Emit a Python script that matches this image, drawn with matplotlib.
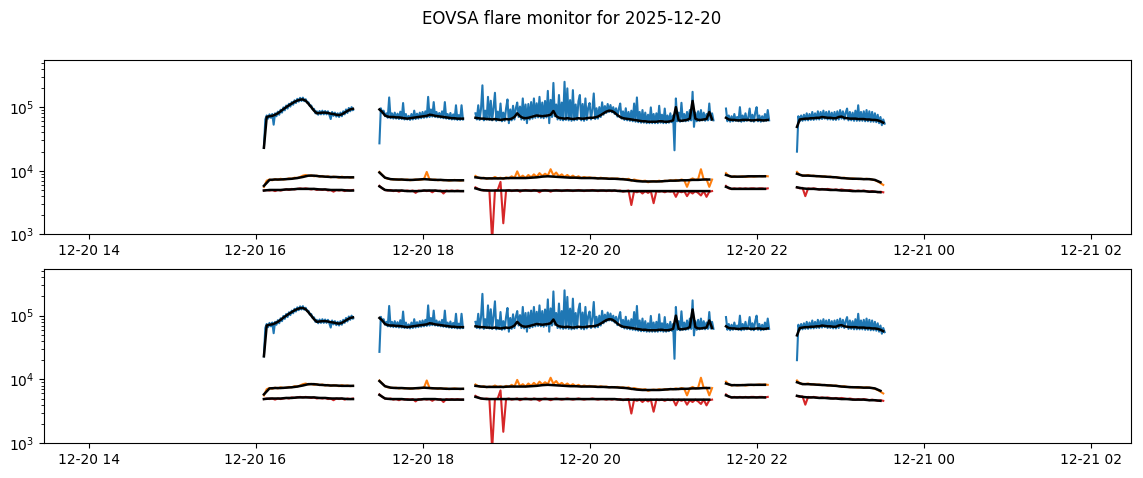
import numpy as np
import pandas as pd
import matplotlib
matplotlib.use('Agg')
import matplotlib.pyplot as plt

# EOVSA flare monitor, 2025-12-20, in units of 1e3
DAY = '2025-12-20'
seg_start = ['16:06', '17:29', '18:38', '21:38', '22:29']

# total power (blue), 1-minute samples
blue_1 = [23, 64, 74, 66, 77, 68, 78, 53, 80, 72, 85, 76, 91, 82, 99, 89, 106, 95, 113, 102,
          120, 109, 128, 116, 135, 122, 140, 125, 141, 124, 133, 118, 119, 104, 106, 92, 94, 80, 86, 76,
          87, 77, 88, 77, 87, 77, 86, 76, 65, 84, 73, 82, 71, 80, 70, 82, 72, 86, 77, 92,
          81, 97, 86, 100, 90]
blue_2 = [27, 96, 82, 88, 72, 80, 68, 142, 67, 80, 66, 82, 66, 79, 65, 85, 65, 116, 64, 78,
          64, 73, 63, 78, 64, 88, 65, 79, 66, 82, 67, 84, 68, 86, 69, 145, 70, 92, 71, 120,
          70, 84, 69, 81, 68, 86, 67, 120, 66, 78, 65, 81, 64, 77, 64, 107, 63, 75, 63, 107, 64]
blue_3 = [80, 64, 107, 63, 95, 220, 62, 88, 64, 145, 63, 126, 62, 98, 168, 61, 85, 62, 114, 60,
          82, 61, 96, 132, 56, 92, 62, 105, 64, 96, 118, 70, 102, 64, 137, 63, 110, 56, 112, 64,
          120, 66, 137, 68, 115, 69, 145, 68, 118, 67, 125, 69, 180, 56, 130, 70, 240, 72, 110, 64,
          155, 63, 118, 62, 250, 63, 197, 62, 129, 61, 185, 62, 110, 63, 124, 155, 62, 112, 61, 137,
          63, 98, 116, 64, 92, 164, 65, 96, 66, 100, 70, 119, 76, 104, 81, 112, 84, 108, 83, 100,
          78, 96, 71, 94, 114, 66, 86, 63, 96, 62, 84, 61, 88, 60, 114, 59, 142, 58, 84, 57,
          90, 57, 82, 56, 76, 56, 99, 56, 78, 56, 80, 56, 105, 57, 76, 56, 95, 56, 74, 57,
          80, 58, 74, 21, 137, 60, 82, 59, 117, 60, 78, 60, 84, 61, 90, 62, 174, 49, 82, 60,
          86, 61, 90, 62, 82, 61, 78, 62, 114, 63, 80, 62]
blue_4 = [95, 60, 74, 59, 72, 60, 78, 61, 70, 60, 100, 59, 74, 60, 80, 61, 68, 95, 60, 76,
          59, 82, 100, 60, 74, 59, 72, 60, 78, 61, 90, 62]
blue_5 = [20, 72, 60, 74, 61, 76, 62, 80, 62, 78, 63, 84, 63, 80, 64, 86, 64, 84, 65, 88,
          66, 84, 64, 86, 64, 82, 63, 84, 63, 86, 64, 90, 66, 86, 64, 82, 95, 62, 84, 62,
          82, 61, 88, 61, 107, 61, 84, 61, 86, 60, 90, 60, 86, 59, 84, 59, 80, 58, 76, 56,
          70, 52, 64, 55]

# smoothed total power (black), 2-minute samples
blue_sm_1 = [23, 70, 72, 73, 76, 80, 86, 93, 100, 107, 114, 121, 127, 131, 132, 126, 113, 100, 88, 80,
             81, 82, 82, 81, 79, 78, 76, 75, 77, 82, 87, 92, 94]
blue_sm_2 = [92, 84, 74, 71, 70, 70, 69, 69, 68, 67, 66, 67, 68, 69, 70, 71, 72, 73, 76, 75,
             73, 72, 71, 70, 69, 68, 67, 67, 66, 66, 66]
blue_sm_3 = [68, 67, 66, 66, 65, 65, 64, 65, 64, 63, 64, 65, 64, 66, 70, 80, 72, 68, 67, 68,
             70, 72, 74, 73, 72, 73, 74, 76, 87, 72, 68, 67, 66, 67, 66, 65, 66, 67, 66, 66,
             67, 68, 68, 69, 71, 75, 80, 85, 88, 87, 82, 75, 70, 67, 66, 65, 64, 63, 62, 61,
             60, 60, 59, 59, 59, 59, 60, 60, 59, 59, 60, 62, 100, 62, 61, 62, 63, 66, 125, 66,
             63, 63, 64, 65, 84, 64]
blue_sm_4 = [68, 64, 63, 63, 62, 62, 63, 63, 63, 62, 62, 63, 63, 62, 62, 63]
blue_sm_5 = [49, 64, 65, 66, 66, 67, 67, 68, 68, 70, 69, 68, 68, 67, 67, 70, 71, 68, 67, 66,
             66, 66, 65, 65, 65, 64, 64, 63, 63, 62, 60, 57]

# orange channel, 2-minute samples
orange_1 = [5.6, 7.0, 7.3, 7.1, 7.4, 7.2, 7.5, 7.3, 7.4, 7.6, 7.5, 7.8, 7.7, 8.0, 8.4, 8.6, 8.3, 8.5,
            8.2, 8.4, 8.1, 8.3, 8.0, 8.2, 7.9, 8.1, 8.0, 7.8, 8.1, 7.9, 8.0, 7.8, 7.9]
orange_2 = [9.6, 8.6, 7.8, 7.5, 7.4, 7.3, 7.4, 7.2, 7.3, 7.2, 7.3, 7.1, 7.2, 7.3, 7.2, 7.3, 7.4, 9.6,
            7.3, 7.2, 7.3, 7.1, 7.2, 7.1, 7.2, 7.0, 7.1, 7.2, 7.1, 7.0, 7.1]
orange_3 = [8.3, 7.8, 7.6, 7.8, 7.5, 7.7, 7.6, 8.0, 7.6, 7.8, 7.5, 7.9, 7.6, 8.2, 7.7, 9.8, 7.8, 8.4,
            7.7, 8.6, 7.9, 8.8, 8.0, 9.2, 8.3, 9.0, 8.4, 10.6, 8.5, 9.4, 8.2, 8.8, 8.0, 8.6, 7.9, 8.4,
            7.8, 8.2, 7.7, 8.0, 7.8, 7.9, 7.7, 7.8, 7.6, 7.8, 7.6, 7.7, 7.5, 7.6, 7.5, 7.6, 7.4, 7.5,
            7.3, 7.5, 7.0, 7.3, 7.1, 7.0, 6.9, 7.0, 6.6, 6.8, 6.9, 6.8, 7.0, 6.8, 7.0, 6.9, 7.1, 7.0,
            7.2, 7.0, 7.3, 7.1, 5.6, 7.2, 7.6, 7.2, 7.4, 10.6, 7.3, 7.4, 5.6, 7.3]
orange_4 = [9.2, 8.3, 8.0, 8.2, 8.0, 8.1, 8.2, 8.0, 8.1, 8.2, 8.1, 8.2, 8.3, 8.2, 8.3, 8.2]
orange_5 = [9.6, 8.6, 8.5, 8.4, 8.6, 8.3, 8.4, 8.2, 8.3, 8.1, 8.2, 8.0, 8.1, 7.9, 8.0, 7.8, 7.7, 7.8,
            7.6, 7.5, 7.6, 7.5, 7.4, 7.5, 7.4, 7.5, 7.4, 7.3, 7.1, 6.8, 6.4, 6.0]

# red channel, 2-minute samples
red_1 = [4.9, 5.0, 4.9, 5.0, 4.8, 5.0, 4.9, 5.0, 5.1, 5.0, 5.2, 5.1, 5.2, 5.3, 5.2, 5.3, 5.2, 5.1,
         5.2, 5.0, 5.1, 5.0, 5.1, 4.9, 5.0, 4.7, 5.0, 4.9, 5.0, 4.8, 5.0, 4.9, 5.0]
red_2 = [5.8, 5.3, 5.0, 4.9, 5.0, 4.8, 4.9, 4.7, 4.9, 4.8, 4.9, 4.8, 4.9, 4.5, 4.9, 4.8, 4.9, 4.8,
         4.9, 4.6, 4.9, 4.8, 4.9, 4.4, 4.9, 4.8, 4.9, 4.8, 4.9, 4.8, 4.8]
red_3 = [5.5, 5.2, 5.0, 4.9, 5.0, 4.9, 0.8, 4.9, 5.0, 6.7, 1.5, 4.9, 5.0, 4.8, 4.9, 5.0, 4.7, 4.9,
         5.0, 4.9, 4.8, 5.0, 4.9, 4.6, 4.9, 5.0, 4.9, 4.7, 4.9, 5.0, 4.9, 4.8, 4.9, 5.0, 4.9, 4.8,
         4.9, 5.0, 4.9, 4.8, 4.9, 4.9, 5.0, 4.9, 4.8, 4.9, 4.9, 4.8, 4.9, 4.8, 4.9, 4.8, 4.9, 4.7,
         4.8, 4.9, 2.9, 4.8, 4.6, 4.8, 4.4, 4.8, 4.5, 4.8, 3.1, 4.8, 4.7, 4.8, 4.6, 4.8, 4.7, 4.8,
         3.9, 4.8, 4.6, 4.8, 4.0, 4.7, 4.4, 4.8, 4.5, 4.1, 4.8, 3.9, 4.7, 4.8]
red_4 = [5.8, 5.3, 5.2, 5.3, 5.2, 5.3, 5.2, 5.3, 5.2, 5.3, 5.3, 5.2, 5.3, 5.3, 5.2, 5.3]
red_5 = [5.5, 5.3, 5.4, 4.0, 5.3, 5.2, 5.3, 5.2, 5.1, 5.2, 5.1, 5.2, 5.1, 5.0, 5.1, 5.0, 5.1, 5.0,
         4.9, 5.0, 4.9, 4.8, 4.9, 4.8, 4.9, 4.8, 4.7, 4.8, 4.7, 4.6, 4.7, 4.6]

# smoothed orange / red (black), 4-minute samples
orange_sm_1 = [5.8, 7.2, 7.3, 7.3, 7.4, 7.5, 7.7, 8.0, 8.4, 8.4, 8.2, 8.1, 8.0, 8.0, 7.9, 7.9, 7.9]
orange_sm_2 = [9.4, 7.8, 7.4, 7.3, 7.3, 7.2, 7.2, 7.3, 7.4, 7.3, 7.2, 7.2, 7.1, 7.1, 7.1, 7.1]
orange_sm_3 = [7.9, 7.7, 7.6, 7.6, 7.6, 7.6, 7.7, 7.7, 7.7, 7.7, 7.8, 7.9, 8.1, 8.2, 8.1, 8.0, 7.9,
               7.8, 7.8, 7.7, 7.7, 7.7, 7.6, 7.6, 7.5, 7.5, 7.4, 7.3, 7.1, 6.9, 6.8, 6.8, 6.8, 6.8,
               6.9, 7.0, 7.0, 7.1, 7.1, 7.2, 7.2, 7.3, 7.3]
orange_sm_4 = [8.6, 8.1, 8.1, 8.1, 8.2, 8.2, 8.2, 8.2]
orange_sm_5 = [9.0, 8.4, 8.4, 8.3, 8.2, 8.1, 8.0, 7.9, 7.7, 7.6, 7.5, 7.5, 7.4, 7.4, 7.2, 6.6]
red_sm_1 = [4.9, 5.0, 5.0, 5.0, 5.1, 5.1, 5.2, 5.2, 5.2, 5.2, 5.1, 5.1, 5.0, 5.0, 5.0, 4.9, 4.9]
red_sm_2 = [5.7, 5.0, 4.9, 4.9, 4.9, 4.8, 4.8, 4.8, 4.9, 4.9, 4.9, 4.8, 4.8, 4.8, 4.8, 4.8]
red_sm_3 = [5.3, 5.0, 4.9, 4.9, 4.9, 4.9, 4.9, 4.9, 4.9, 4.9, 4.9, 4.9, 4.9, 4.9, 4.9, 4.9, 4.9,
            4.9, 4.9, 4.9, 4.9, 4.9, 4.9, 4.9, 4.9, 4.9, 4.8, 4.8, 4.8, 4.8, 4.8, 4.8, 4.8, 4.8,
            4.8, 4.8, 4.8, 4.8, 4.8, 4.8, 4.8, 4.8, 4.8]
red_sm_4 = [5.6, 5.2, 5.2, 5.2, 5.2, 5.2, 5.2, 5.2]
red_sm_5 = [5.5, 5.3, 5.2, 5.2, 5.1, 5.1, 5.0, 5.0, 4.9, 4.9, 4.8, 4.8, 4.8, 4.7, 4.7, 4.6]

blue = [blue_1, blue_2, blue_3, blue_4, blue_5]
blue_sm = [blue_sm_1, blue_sm_2, blue_sm_3, blue_sm_4, blue_sm_5]
orange = [orange_1, orange_2, orange_3, orange_4, orange_5]
orange_sm = [orange_sm_1, orange_sm_2, orange_sm_3, orange_sm_4, orange_sm_5]
red = [red_1, red_2, red_3, red_4, red_5]
red_sm = [red_sm_1, red_sm_2, red_sm_3, red_sm_4, red_sm_5]


def times(start, step, n):
    t0 = pd.Timestamp(DAY + ' ' + start)
    return t0 + pd.to_timedelta(np.arange(n) * step, unit='min')


def draw(ax):
    for i, st in enumerate(seg_start):
        for vals, step, col in ((blue[i], 1, 'C0'), (orange[i], 2, 'C1'), (red[i], 2, 'C3')):
            ax.plot(times(st, step, len(vals)), np.array(vals) * 1e3, color=col)
    # smoothed curves in black on top
    for i, st in enumerate(seg_start):
        for vals, step in ((blue_sm[i], 2), (orange_sm[i], 4), (red_sm[i], 4)):
            ax.plot(times(st, step, len(vals)), np.array(vals) * 1e3, color='k', lw=1.8)
    ax.set_yscale('log')
    ax.set_ylim(1e3, 5.5e5)
    ax.set_xlim(pd.Timestamp('2025-12-20 13:28'), pd.Timestamp('2025-12-21 02:29'))


fig, axes = plt.subplots(2, 1, figsize=(11.43, 4.78), dpi=100)
fig.subplots_adjust(left=0.0385, right=0.9895, top=0.8745, bottom=0.0732, hspace=0.195)
for ax in axes:
    draw(ax)
fig.suptitle('EOVSA flare monitor for ' + DAY)
fig.savefig('out.png', dpi=100)
